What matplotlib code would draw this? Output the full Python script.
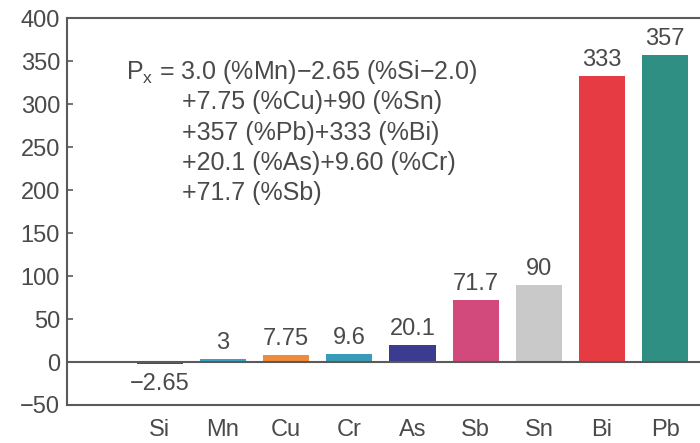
import matplotlib
matplotlib.use('Agg')
import matplotlib.pyplot as plt

plt.rcParams['font.family'] = ['Liberation Sans', 'DejaVu Sans']
plt.rcParams['mathtext.default'] = 'regular'

elements = ['Si', 'Mn', 'Cu', 'Cr', 'As', 'Sb', 'Sn', 'Bi', 'Pb']
factors = [-2.65, 3, 7.75, 9.6, 20.1, 71.7, 90, 333, 357]
labels = ['\u22122.65', '3', '7.75', '9.6', '20.1', '71.7', '90', '333', '357']
colors = ['#5b4d48', '#3b9fcb', '#f08b3c', '#3a9bb8', '#3b3b8f',
          '#d2497c', '#c9c9c9', '#e63b42', '#2f8f82']

eq_lines = ['P$_{x}$ = 3.0 (%Mn)\u22122.65 (%Si\u22122.0)',
            '+7.75 (%Cu)+90 (%Sn)',
            '+357 (%Pb)+333 (%Bi)',
            '+20.1 (%As)+9.60 (%Cr)',
            '+71.7 (%Sb)']

txt = '#4a4a4a'
spine = '#5a5a5a'

fig = plt.figure(figsize=(7, 4.43), dpi=100)
ax = fig.add_axes([0.0957, 0.0858, 0.9043, 0.873])

x = range(len(elements))
ax.bar(x, factors, width=0.73, color=colors, zorder=2)
ax.axhline(0, color=spine, lw=1.5, zorder=3)

for i, (v, lab) in enumerate(zip(factors, labels)):
    if v >= 0:
        ax.text(i, v + 6, lab, ha='center', va='bottom', fontsize=17, color=txt)
    else:
        ax.text(i, v - 10, lab, ha='center', va='top', fontsize=17, color=txt)

# equation block, first line hangs left of the others
for k, line in enumerate(eq_lines):
    ax.text(-0.53 if k == 0 else 0.35, 337 - 35 * k, line, ha='left',
            va='center', fontsize=18, color=txt)

ax.set_xlim(-1.47, 8.55)
ax.set_ylim(-50, 400)
ax.set_yticks(range(-50, 401, 50))
ax.set_yticklabels([str(t).replace('-', '\u2212') for t in range(-50, 401, 50)])
ax.set_xticks(list(x))
ax.set_xticklabels(elements)

ax.tick_params(axis='y', direction='in', length=4, width=1.2, color=spine,
               labelsize=17, labelcolor=txt, pad=5)
ax.tick_params(axis='x', length=0, labelsize=17, labelcolor=txt, pad=10)

for s in ['left', 'top', 'bottom']:
    ax.spines[s].set_color(spine)
    ax.spines[s].set_linewidth(1.5)
ax.spines['right'].set_visible(False)

plt.savefig('out.png', dpi=100)
